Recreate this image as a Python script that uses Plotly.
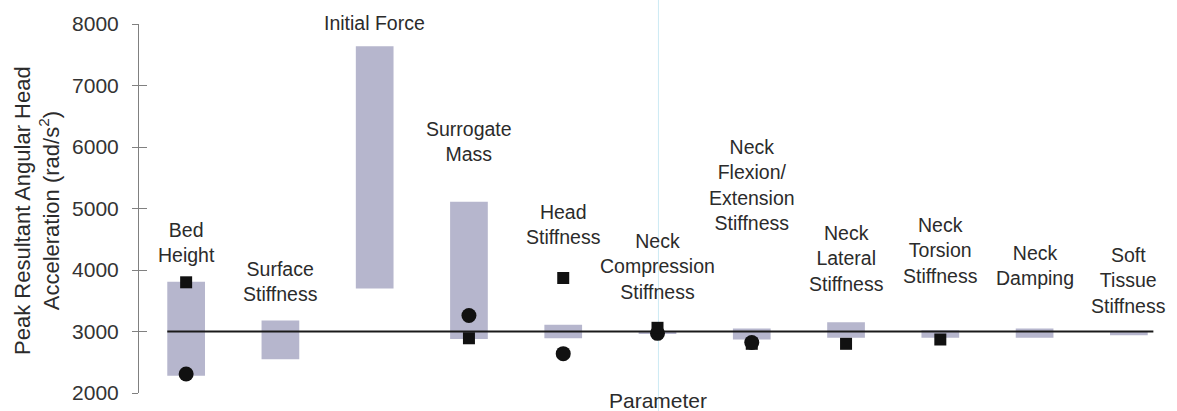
import plotly.graph_objects as go

# Sensitivity of peak resultant angular head acceleration to each model parameter
categories = [
    "Bed<br>Height",
    "Surface<br>Stiffness",
    "Initial Force",
    "Surrogate<br>Mass",
    "Head<br>Stiffness",
    "Neck<br>Compression<br>Stiffness",
    "Neck<br>Flexion/<br>Extension<br>Stiffness",
    "Neck<br>Lateral<br>Stiffness",
    "Neck<br>Torsion<br>Stiffness",
    "Neck<br>Damping",
    "Soft<br>Tissue<br>Stiffness",
]
range_low = [2280, 2550, 3700, 2880, 2890, 2960, 2870, 2900, 2900, 2900, 2940]
range_high = [3810, 3180, 7640, 5110, 3110, 3010, 3050, 3150, 3020, 3050, 3000]
circle_vals = [2310, None, None, 3260, 2640, 2970, 2820, None, None, None, None]
square_vals = [3800, None, None, 2890, 3870, 3060, 2800, 2800, 2870, None, None]
baseline = 3000
y_ticks = [2000, 3000, 4000, 5000, 6000, 7000, 8000]
y_range = [2000, 8000]

# Layout: vertical centre of each parameter label (axis units)
label_y = [4440, 3805, 8020, 6090, 4740, 4050, 5380, 4190, 4315, 4080, 3830]

x = list(range(len(categories)))
span = [h - l for h, l in zip(range_high, range_low)]

BAR = "#b6b6cd"
INK = "#2b2b2b"
FONT = "Liberation Sans, Arial, sans-serif"


def to_paper(v):
    return (v - y_range[0]) / (y_range[1] - y_range[0])


fig = go.Figure()

fig.add_trace(go.Bar(
    x=x, y=span, base=range_low, width=0.4,
    marker=dict(color=BAR, line=dict(width=0)),
    hoverinfo="skip", showlegend=False,
))

fig.add_trace(go.Scatter(
    x=[-0.2, len(categories) - 1 + 0.26], y=[baseline, baseline],
    mode="lines", line=dict(color="#1a1a1a", width=2),
    hoverinfo="skip", showlegend=False,
))

fig.add_trace(go.Scatter(
    x=x, y=circle_vals, mode="markers",
    marker=dict(symbol="circle", size=15, color="#111111"),
    showlegend=False,
))

fig.add_trace(go.Scatter(
    x=x, y=square_vals, mode="markers",
    marker=dict(symbol="square", size=12, color="#111111"),
    showlegend=False,
))

# invisible trace carrying the inner half of the crossing ticks
fig.add_trace(go.Scatter(
    x=[0], y=[baseline], yaxis="y2", mode="markers",
    marker=dict(opacity=0), hoverinfo="skip", showlegend=False,
))

annotations = []
for xi, txt, ly in zip(x, categories, label_y):
    annotations.append(dict(
        x=xi, y=to_paper(ly), xref="x", yref="paper", text=txt, showarrow=False,
        xanchor="center", yanchor="middle", align="center",
        font=dict(family=FONT, size=19.5, color=INK),
    ))

annotations.append(dict(
    x=5, y=-0.02, xref="x", yref="paper", text="Parameter", showarrow=False,
    xanchor="center", yanchor="middle",
    font=dict(family=FONT, size=21, color=INK),
))

annotations.append(dict(
    x=-0.0984, y=0.496, xref="paper", yref="paper",
    text="Peak Resultant Angular Head<br>Acceleration (rad/s<sup>2</sup>)",
    textangle=-90, showarrow=False, xanchor="center", yanchor="middle",
    align="center", font=dict(family=FONT, size=22, color=INK),
))

fig.update_layout(
    width=1177, height=411,
    margin=dict(l=139, r=1, t=24, b=18),
    paper_bgcolor="white", plot_bgcolor="white",
    xaxis=dict(range=[-0.5, len(categories) - 0.5], visible=False),
    yaxis=dict(
        range=y_range, tickvals=y_ticks, showgrid=False, zeroline=False,
        showline=True, linecolor="#808080", linewidth=1,
        ticks="outside", ticklen=6, tickcolor="#808080", tickwidth=1,
        ticklabelstandoff=9,
        tickfont=dict(family=FONT, size=21, color="#333333"),
    ),
    yaxis2=dict(
        range=y_range, tickvals=y_ticks, overlaying="y", side="left",
        showgrid=False, zeroline=False, showline=False, showticklabels=False,
        ticks="inside", ticklen=8, tickcolor="#808080", tickwidth=1,
    ),
    annotations=annotations,
    shapes=[dict(
        type="line", xref="x", yref="paper", x0=5.01, x1=5.01, y0=-0.06, y1=1.08,
        line=dict(color="#cdeaf4", width=1), layer="below",
    )],
)

fig.write_html("out.html")
